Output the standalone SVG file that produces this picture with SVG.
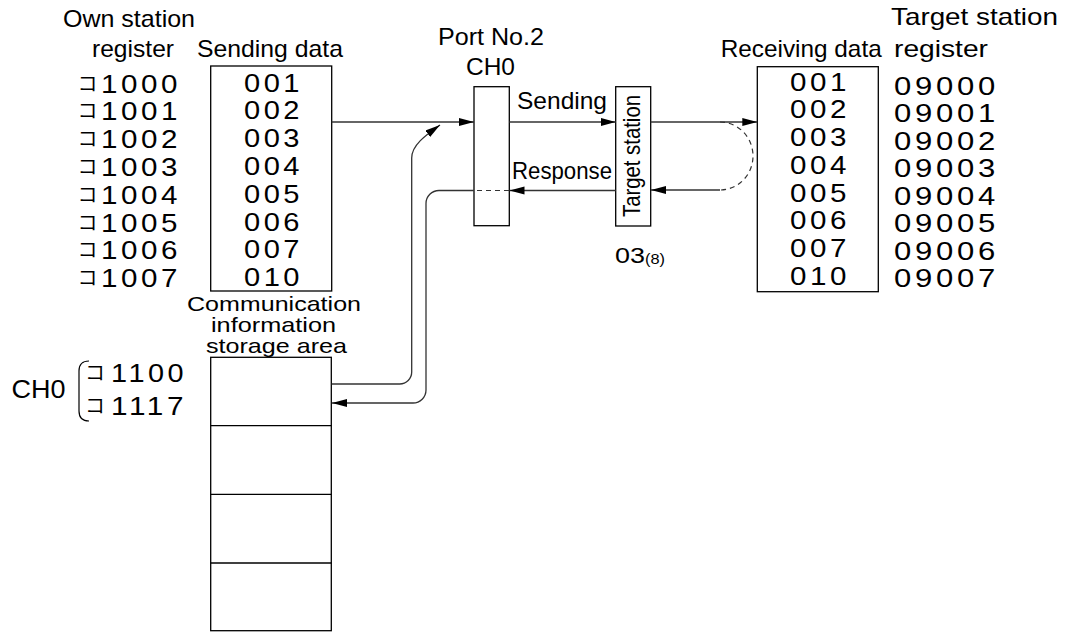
<svg xmlns="http://www.w3.org/2000/svg" width="1073" height="632" viewBox="0 0 1073 632">
<style>
text{font-family:"Liberation Sans",Arial,sans-serif;fill:#000}
.lbl{font-size:24px}
.sm{font-size:21px}
.dg{font-size:25px;letter-spacing:3px}
.ko{font-family:"Noto Sans CJK JP","Noto Sans CJK SC",sans-serif;font-size:20px}
.box{fill:#fff;stroke:#000;stroke-width:1.3}
.ln{fill:none;stroke:#333;stroke-width:1.3}
.dash{fill:none;stroke:#333;stroke-width:1.2;stroke-dasharray:5 4}
</style>
<defs>
<marker id="ah" markerUnits="userSpaceOnUse" markerWidth="16" markerHeight="9" refX="15" refY="4" orient="auto">
<path d="M0,0 L15,4 L0,8 z" fill="#000"/>
</marker>
</defs>
<rect width="1073" height="632" fill="#fff"/>

<g id="own-register">
<text class="lbl" x="63" y="27" textLength="132" lengthAdjust="spacingAndGlyphs">Own station</text>
<text class="lbl" x="92" y="57" textLength="82" lengthAdjust="spacingAndGlyphs">register</text>
<text class="ko"><tspan x="77.5" y="90.5">コ</tspan><tspan x="77.5" y="118.3">コ</tspan><tspan x="77.5" y="146.1">コ</tspan><tspan x="77.5" y="173.9">コ</tspan><tspan x="77.5" y="201.7">コ</tspan><tspan x="77.5" y="229.5">コ</tspan><tspan x="77.5" y="257.3">コ</tspan><tspan x="77.5" y="285.1">コ</tspan></text>
<text class="dg" x="101" y="92.5" textLength="80" lengthAdjust="spacingAndGlyphs">1000</text>
<text class="dg" x="101" y="120.3" textLength="80" lengthAdjust="spacingAndGlyphs">1001</text>
<text class="dg" x="101" y="148.1" textLength="80" lengthAdjust="spacingAndGlyphs">1002</text>
<text class="dg" x="101" y="175.9" textLength="80" lengthAdjust="spacingAndGlyphs">1003</text>
<text class="dg" x="101" y="203.7" textLength="80" lengthAdjust="spacingAndGlyphs">1004</text>
<text class="dg" x="101" y="231.5" textLength="80" lengthAdjust="spacingAndGlyphs">1005</text>
<text class="dg" x="101" y="259.3" textLength="80" lengthAdjust="spacingAndGlyphs">1006</text>
<text class="dg" x="101" y="287.1" textLength="80" lengthAdjust="spacingAndGlyphs">1007</text>
</g>

<g id="sending-data">
<text class="lbl" x="197" y="57" textLength="146" lengthAdjust="spacingAndGlyphs">Sending data</text>
<rect class="box" x="210.7" y="66" width="121" height="225"/>
<text class="dg" x="244" y="91.5" textLength="59" lengthAdjust="spacingAndGlyphs">001</text>
<text class="dg" x="244" y="119.3" textLength="59" lengthAdjust="spacingAndGlyphs">002</text>
<text class="dg" x="244" y="147.1" textLength="59" lengthAdjust="spacingAndGlyphs">003</text>
<text class="dg" x="244" y="174.9" textLength="59" lengthAdjust="spacingAndGlyphs">004</text>
<text class="dg" x="244" y="202.7" textLength="59" lengthAdjust="spacingAndGlyphs">005</text>
<text class="dg" x="244" y="230.5" textLength="59" lengthAdjust="spacingAndGlyphs">006</text>
<text class="dg" x="244" y="258.3" textLength="59" lengthAdjust="spacingAndGlyphs">007</text>
<text class="dg" x="244" y="286" textLength="59" lengthAdjust="spacingAndGlyphs">010</text>
</g>

<g id="port">
<text class="lbl" x="438" y="45" textLength="106" lengthAdjust="spacingAndGlyphs">Port No.2</text>
<text class="lbl" x="466" y="75" textLength="49" lengthAdjust="spacingAndGlyphs">CH0</text>
<rect class="box" x="474" y="86.7" width="35.3" height="139"/>
</g>

<g id="target-station">
<rect class="box" x="615.7" y="86.7" width="35" height="139.3"/>
<text class="lbl" transform="translate(640,217) rotate(-90)" x="0" y="0" textLength="122" lengthAdjust="spacingAndGlyphs">Target station</text>
<text style="font-size:22px" x="615" y="262.7" textLength="30" lengthAdjust="spacingAndGlyphs">03</text>
<text style="font-size:14px" x="645" y="264" textLength="20" lengthAdjust="spacingAndGlyphs">(8)</text>
</g>

<g id="receiving-data">
<text class="lbl" x="720.7" y="57" textLength="161" lengthAdjust="spacingAndGlyphs">Receiving data</text>
<rect class="box" x="757.3" y="66.7" width="121" height="225"/>
<text class="dg" x="790" y="90.7" textLength="60" lengthAdjust="spacingAndGlyphs">001</text>
<text class="dg" x="790" y="118.4" textLength="60" lengthAdjust="spacingAndGlyphs">002</text>
<text class="dg" x="790" y="146.1" textLength="60" lengthAdjust="spacingAndGlyphs">003</text>
<text class="dg" x="790" y="173.8" textLength="60" lengthAdjust="spacingAndGlyphs">004</text>
<text class="dg" x="790" y="201.5" textLength="60" lengthAdjust="spacingAndGlyphs">005</text>
<text class="dg" x="790" y="229.2" textLength="60" lengthAdjust="spacingAndGlyphs">006</text>
<text class="dg" x="790" y="256.9" textLength="60" lengthAdjust="spacingAndGlyphs">007</text>
<text class="dg" x="790" y="284.6" textLength="60" lengthAdjust="spacingAndGlyphs">010</text>
</g>

<g id="target-register">
<text class="lbl" x="891" y="25" textLength="167" lengthAdjust="spacingAndGlyphs">Target station</text>
<text class="lbl" x="894" y="57" textLength="94" lengthAdjust="spacingAndGlyphs">register</text>
<text class="dg" x="894" y="94.7" textLength="105" lengthAdjust="spacingAndGlyphs">09000</text>
<text class="dg" x="894" y="122.2" textLength="105" lengthAdjust="spacingAndGlyphs">09001</text>
<text class="dg" x="894" y="149.7" textLength="105" lengthAdjust="spacingAndGlyphs">09002</text>
<text class="dg" x="894" y="177.2" textLength="105" lengthAdjust="spacingAndGlyphs">09003</text>
<text class="dg" x="894" y="204.7" textLength="105" lengthAdjust="spacingAndGlyphs">09004</text>
<text class="dg" x="894" y="232.2" textLength="105" lengthAdjust="spacingAndGlyphs">09005</text>
<text class="dg" x="894" y="259.7" textLength="105" lengthAdjust="spacingAndGlyphs">09006</text>
<text class="dg" x="894" y="287.2" textLength="105" lengthAdjust="spacingAndGlyphs">09007</text>
</g>

<g id="comm-area">
<text class="sm"><tspan x="187" y="310.5" textLength="174" lengthAdjust="spacingAndGlyphs">Communication</tspan><tspan x="211" y="331.5" textLength="125" lengthAdjust="spacingAndGlyphs">information</tspan><tspan x="206" y="352.5" textLength="141" lengthAdjust="spacingAndGlyphs">storage area</tspan></text>
<rect class="box" x="210.7" y="357.3" width="120.6" height="273.4"/>
<line class="ln" x1="210.7" y1="425.7" x2="331.3" y2="425.7" style="stroke:#000"/>
<line class="ln" x1="210.7" y1="494.3" x2="331.3" y2="494.3" style="stroke:#000"/>
<line class="ln" x1="210.7" y1="563" x2="331.3" y2="563" style="stroke:#000"/>
</g>

<g id="ch0-range">
<text class="lbl" style="font-size:25px" x="11.5" y="398.3" textLength="54" lengthAdjust="spacingAndGlyphs">CH0</text>
<path d="M89,361 Q79,361 79,371 V411 Q79,421 89,421" fill="none" stroke="#000" stroke-width="1.2"/>
<text class="ko"><tspan x="85" y="380">コ</tspan><tspan x="85" y="413.3">コ</tspan></text>
<text class="dg" x="111" y="381.7" textLength="76" lengthAdjust="spacingAndGlyphs">1100</text>
<text class="dg" x="111" y="415" textLength="76" lengthAdjust="spacingAndGlyphs">1117</text>
</g>

<g id="connectors">
<text class="lbl" x="517" y="109.3" textLength="90" lengthAdjust="spacingAndGlyphs">Sending</text>
<text class="lbl" x="512" y="179.3" textLength="100" lengthAdjust="spacingAndGlyphs">Response</text>
<path class="ln" d="M331.7,122 H474" marker-end="url(#ah)"/>
<path class="ln" d="M509.3,122 H615.7" marker-end="url(#ah)"/>
<path class="ln" d="M650.7,122 H757.3" marker-end="url(#ah)"/>
<path class="dash" d="M720,122 A33,34 0 0 1 720,190"/>
<path class="ln" d="M720,190 H651" marker-end="url(#ah)"/>
<path class="ln" d="M615.7,190.5 H509.5" marker-end="url(#ah)"/>
<path class="dash" d="M509,190.5 H474"/>
<path class="ln" d="M474,190.5 H439 A13,13 0 0 0 426,203.5 V390 A13,13 0 0 1 413,403 H332" marker-end="url(#ah)"/>
<path class="ln" d="M331.7,384 H399.7 A12,12 0 0 0 411.7,372 V158 C411.7,145 426,135 440,125" marker-end="url(#ah)"/>
</g>
</svg>
